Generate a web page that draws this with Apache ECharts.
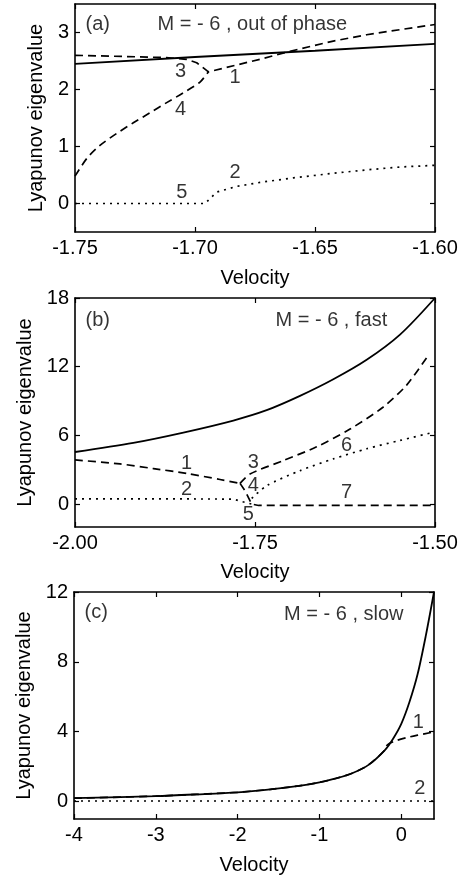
<!DOCTYPE html>
<html>
<head>
<meta charset="utf-8">
<script src="https://cdn.jsdelivr.net/npm/echarts@6/dist/echarts.min.js"></script>
<style>
html,body{margin:0;padding:0;background:#fff;}
#chart{width:466px;height:882px;}
</style>
</head>
<body>
<div id="chart"></div>
<script>
// ---------- Panel (a): M = -6, out of phase ----------
const aXTicks = [-1.75, -1.70, -1.65, -1.60];
const aYTicks = [0, 1, 2, 3];
const aSolidX = [-1.75, -1.70, -1.65, -1.60];
const aSolidY = [2.45, 2.57, 2.68, 2.80];
const aDashUpX = [-1.75, -1.73, -1.712, -1.7035, -1.6993, -1.6944, -1.6729, -1.6604, -1.6424, -1.6285, -1.6146, -1.60];
const aDashUpY = [2.60, 2.58, 2.56, 2.53, 2.47, 2.31, 2.53, 2.67, 2.85, 2.96, 3.05, 3.14];
const aDashLoX = [-1.75, -1.7451, -1.7396, -1.7326, -1.7257, -1.7188, -1.7118, -1.7049, -1.6979, -1.6944];
const aDashLoY = [0.48, 0.79, 1.02, 1.23, 1.415, 1.59, 1.77, 1.94, 2.13, 2.31];
const aDotX = [-1.75, -1.6958, -1.691, -1.6826, -1.6729, -1.659, -1.6424, -1.6285, -1.6146, -1.60];
const aDotY = [0, 0, 0.20, 0.30, 0.37, 0.45, 0.53, 0.59, 0.64, 0.67];
const aLabelText = ['3', '1', '4', '2', '5'];
const aLabelX = [-1.706, -1.6833, -1.706, -1.6833, -1.7055];
const aLabelY = [2.32, 2.205, 1.65, 0.54, 0.19];
const aTitleText = ['(a)', 'M = - 6 , out of phase'];
const aTitleX = [-1.7458, -1.7158];
const aTitleY = [3.14, 3.14];

// ---------- Panel (b): M = -6, fast ----------
const bXTicks = [-2.00, -1.75, -1.50];
const bYTicks = [0, 6, 12, 18];
const bSolidX = [-2, -1.919, -1.8495, -1.7801, -1.7338, -1.6875, -1.6412, -1.5949, -1.5486, -1.5];
const bSolidY = [4.55, 5.35, 6.25, 7.30, 8.20, 9.45, 10.90, 12.60, 14.80, 18.0];
const bDash1X = [-2, -1.9375, -1.891, -1.845, -1.7986, -1.7708];
const bDash1Y = [3.86, 3.51, 3.10, 2.68, 2.15, 1.81];
const bDash3X = [-1.7708, -1.757, -1.7107, -1.6644, -1.618, -1.5718, -1.5394, -1.509];
const bDash3Y = [1.81, 2.63, 3.80, 5.00, 6.55, 8.48, 10.39, 13.02];
const bDash4X = [-1.7708, -1.7639, -1.7546, -1.745, -1.5];
const bDash4Y = [1.81, 1.17, 0.0, -0.12, -0.12];
const bDot2X = [-2, -1.85, -1.78, -1.77, -1.7546];
const bDot2Y = [0.46, 0.45, 0.44, 0.25, 0.0];
const bDot6X = [-1.7546, -1.7338, -1.6875, -1.6412, -1.5949, -1.5486, -1.5];
const bDot6Y = [0.5, 1.61, 2.92, 3.95, 4.83, 5.56, 6.3];
const bLabelText = ['1', '3', '4', '2', '5', '6', '7'];
const bLabelX = [-1.845, -1.7523, -1.7523, -1.845, -1.7593, -1.6227, -1.6227];
const bLabelY = [3.51, 3.65, 1.61, 1.26, -0.94, 5.12, 1.02];
const bTitleText = ['(b)', 'M = - 6 , fast'];
const bTitleX = [-1.986, -1.7222];
const bTitleY = [16.05, 16.0];

// ---------- Panel (c): M = -6, slow ----------
const cXTicks = [-4, -3, -2, -1, 0];
const cYTicks = [0, 4, 8, 12];
const cSolidX = [-4, -3, -2.5, -2, -1.6, -1.25, -1.0, -0.8, -0.6, -0.4, -0.2, -0.1, 0, 0.1, 0.2, 0.3, 0.4];
const cSolidY = [0.19, 0.31, 0.41, 0.53, 0.70, 0.90, 1.10, 1.32, 1.62, 2.10, 2.95, 3.60, 4.45, 5.70, 7.30, 9.50, 12.0];
const cDashX = [-4, -3, -2.5, -2, -1.6, -1.25, -1.0, -0.8, -0.6, -0.4, -0.2, -0.17, -0.056, 0.066, 0.2, 0.39];
const cDashY = [0.19, 0.31, 0.41, 0.53, 0.70, 0.90, 1.10, 1.32, 1.62, 2.10, 2.95, 3.25, 3.50, 3.66, 3.80, 3.98];
const cDotX = [-4, 0.4];
const cDotY = [0.03, 0.03];
const cLabelText = ['1', '2'];
const cLabelX = [0.207, 0.228];
const cLabelY = [4.51, 0.72];
const cTitleText = ['(c)', 'M = - 6 , slow'];
const cTitleX = [-3.878, -1.439];
const cTitleY = [10.85, 10.72];

const FONT = 'Liberation Sans';
const FS = 20;
const zip = (xs, ys) => xs.map((x, i) => [x, ys[i]]);
const ann = (xs, ys, ts) => xs.map((x, i) => ({ value: [x, ys[i]], name: ts[i] }));

function xAxes(gi, min, max, ticks, fmt, nameGap) {
  const line = { show: true, onZero: false, lineStyle: { color: '#000', width: 1.6 } };
  const tick = { show: true, inside: true, length: 5, customValues: ticks, lineStyle: { color: '#000', width: 1.2 } };
  return [
    { type: 'value', gridIndex: gi, position: 'bottom', min, max, axisLine: line, axisTick: tick,
      axisLabel: { show: true, customValues: ticks, formatter: fmt, color: '#000', fontSize: FS, fontFamily: FONT, margin: 6 },
      splitLine: { show: false }, name: 'Velocity', nameLocation: 'middle', nameGap,
      nameTextStyle: { color: '#000', fontSize: FS, fontFamily: FONT } },
    { type: 'value', gridIndex: gi, position: 'top', min, max, axisLine: line, axisTick: tick,
      axisLabel: { show: false }, splitLine: { show: false } }
  ];
}
function yAxes(gi, min, max, ticks, nameGap) {
  const line = { show: true, onZero: false, lineStyle: { color: '#000', width: 1.6 } };
  const tick = { show: true, inside: true, length: 5, customValues: ticks, lineStyle: { color: '#000', width: 1.2 } };
  return [
    { type: 'value', gridIndex: gi, position: 'left', min, max, axisLine: line, axisTick: tick,
      axisLabel: { show: true, customValues: ticks, color: '#000', fontSize: FS, fontFamily: FONT, margin: 6 },
      splitLine: { show: false }, name: 'Lyapunov eigenvalue', nameLocation: 'middle', nameGap,
      nameTextStyle: { color: '#000', fontSize: FS, fontFamily: FONT } },
    { type: 'value', gridIndex: gi, position: 'right', min, max, axisLine: line, axisTick: tick,
      axisLabel: { show: false }, splitLine: { show: false } }
  ];
}

function lineS(xi, yi, data, type, smooth) {
  return { type: 'line', xAxisIndex: xi, yAxisIndex: yi, data, showSymbol: false, symbol: 'none',
    smooth: smooth || false, silent: true, z: type === 'solid' ? 3 : 2,
    lineStyle: { color: '#000', width: type === 'solid' ? 1.8 : 1.7, type } };
}
function textS(xi, yi, data, pos) {
  return { type: 'scatter', xAxisIndex: xi, yAxisIndex: yi, data, symbolSize: 1, silent: true, z: 5,
    itemStyle: { color: 'rgba(0,0,0,0)' },
    label: { show: true, position: pos, distance: 0, formatter: '{b}', color: '#000', fontSize: FS, fontFamily: FONT } };
}

const DASH = [8, 5];
const DOT = [2, 5];
const f2 = v => v.toFixed(2);
const f0 = v => String(v);

const option = {
  animation: false,
  backgroundColor: '#fff',
  grid: [
    { left: 75, top: 4, width: 360, height: 228 },
    { left: 75, top: 298, width: 360, height: 229 },
    { left: 74, top: 592, width: 360, height: 227 }
  ],
  xAxis: [
    ...xAxes(0, -1.75, -1.60, aXTicks, f2, 36),
    ...xAxes(1, -2.0, -1.5, bXTicks, f2, 35),
    ...xAxes(2, -4, 0.4, cXTicks, f0, 36)
  ],
  yAxis: [
    ...yAxes(0, -0.5, 3.5, aYTicks, 28),
    ...yAxes(1, -2, 18, bYTicks, 40),
    ...yAxes(2, -1, 12, cYTicks, 40)
  ],
  series: [
    lineS(0, 0, zip(aSolidX, aSolidY), 'solid', false),
    lineS(0, 0, zip(aDashUpX, aDashUpY), DASH, false),
    lineS(0, 0, zip(aDashLoX, aDashLoY), DASH, 0.25),
    lineS(0, 0, zip(aDotX, aDotY), DOT, false),
    textS(0, 0, ann(aLabelX, aLabelY, aLabelText), 'inside'),
    textS(0, 0, ann(aTitleX, aTitleY, aTitleText), 'right'),

    lineS(2, 2, zip(bSolidX, bSolidY), 'solid', 0.3),
    lineS(2, 2, zip(bDash1X, bDash1Y), DASH, 0.25),
    lineS(2, 2, zip(bDash3X, bDash3Y), DASH, 0.25),
    lineS(2, 2, zip(bDash4X, bDash4Y), DASH, false),
    lineS(2, 2, zip(bDot2X, bDot2Y), DOT, false),
    lineS(2, 2, zip(bDot6X, bDot6Y), DOT, 0.25),
    textS(2, 2, ann(bLabelX, bLabelY, bLabelText), 'inside'),
    textS(2, 2, ann(bTitleX, bTitleY, bTitleText), 'right'),

    lineS(4, 4, zip(cDashX, cDashY), DASH, 0.3),
    lineS(4, 4, zip(cSolidX, cSolidY), 'solid', 0.3),
    lineS(4, 4, zip(cDotX, cDotY), DOT, false),
    textS(4, 4, ann(cLabelX, cLabelY, cLabelText), 'inside'),
    textS(4, 4, ann(cTitleX, cTitleY, cTitleText), 'right')
  ]
};

const chart = echarts.init(document.getElementById('chart'), null, { renderer: 'canvas' });
chart.setOption(option);
</script>
</body>
</html>
